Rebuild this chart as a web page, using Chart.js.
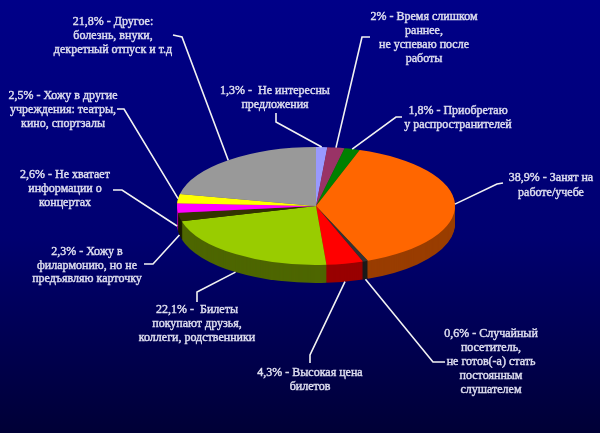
<!DOCTYPE html>
<html>
<head>
<meta charset="utf-8">
<title>Причины</title>
<style>
  html, body { margin: 0; padding: 0; background: #000050; }
  canvas { display: block; }
</style>
<script src="https://cdn.jsdelivr.net/npm/chart.js@4/dist/chart.umd.min.js"></script>
</head>
<body>
<canvas id="chart" width="600" height="433"></canvas>
<script>
// Slice captions, clockwise from the top of the pie
const captions = [
  ['1,3% -  Не интересны', 'предложения'],
  ['2% - Время слишком', 'раннее,', 'не успеваю после', 'работы'],
  ['1,8% - Приобретаю', 'у распространителей'],
  ['38,9% - Занят на', 'работе/учебе'],
  ['0,6% - Случайный', 'посетитель,', 'не готов(-а) стать', 'постоянным', 'слушателем'],
  ['4,3% - Высокая цена', 'билетов'],
  ['22,1% -  Билеты', 'покупают друзья,', 'коллеги, родственники'],
  ['2,3% - Хожу в', 'филармонию, но не', 'предъявляю карточку'],
  ['2,6% - Не хватает', 'информации о', 'концертах'],
  ['2,5% - Хожу в другие', 'учреждения: театры,', 'кино, спортзалы'],
  ['21,8% - Другое:', 'болезнь, внуки,', 'декретный отпуск и т.д']
];

// Shares, percent
const shares = [1.3, 2, 1.8, 38.9, 0.6, 4.3, 22.1, 2.3, 2.6, 2.5, 21.8];

// Top face and side wall colours
const faceColors = ['#9999ff', '#993366', '#008000', '#ff6600', '#333333', '#ff0000',
                    '#99cc00', '#333300', '#ff00ff', '#ffff00', '#999999'];
const sideColors = ['#5c5c99', '#5c1f3d', '#004d00', '#993d00', '#1a1a1a', '#990000',
                    '#4d6600', '#1a1a00', '#990099', '#999900', '#5c5c5c'];

// Caption placement: text centre, first line, line step, and leader bend points
const captionLayout = [
  { x: 275, y: 91,  step: 13.5, bend: [276, 122], tail: [276, 113] },
  { x: 424, y: 17,  step: 14,   bend: [362, 37],  tail: [370, 37] },
  { x: 458, y: 111, step: 14,   bend: [396, 117], tail: [402, 117] },
  { x: 551, y: 178, step: 14.5, bend: [497, 184], tail: [503, 183] },
  { x: 491, y: 334, step: 14,   bend: [433, 362], tail: [445, 362] },
  { x: 310, y: 373, step: 14,   bend: [310, 355], tail: [310, 363] },
  { x: 197, y: 310, step: 14,   bend: [197, 292], tail: [197, 302] },
  { x: 87,  y: 252, step: 13.5, bend: [153, 264], tail: [144, 264] },
  { x: 65,  y: 175, step: 14,   bend: [122, 190], tail: [113, 190] },
  { x: 63,  y: 96,  step: 14,   bend: [124, 109], tail: [117, 109] },
  { x: 113, y: 22,  step: 14,   bend: [182, 37],  tail: [173, 35] }
];

const SQUASH = 0.4245;   // vertical squash of the pie disc
const DEPTH = 18;        // thickness of the disc, px

const backdrop = {
  id: 'backdrop',
  beforeDraw(chart) {
    const { ctx, width, height } = chart;
    const g = ctx.createLinearGradient(0, 0, 0, height);
    g.addColorStop(0, '#000088');
    g.addColorStop(0.55, '#000070');
    g.addColorStop(1, '#000036');
    ctx.save();
    ctx.fillStyle = g;
    ctx.fillRect(0, 0, width, height);
    ctx.restore();
  }
};

function tiltTo(ctx, cy, dy) {
  ctx.translate(0, dy + cy * (1 - SQUASH));
  ctx.scale(1, SQUASH);
}

const disc = {
  id: 'disc',
  beforeDatasetsDraw(chart) {
    const ctx = chart.ctx;
    const arcs = chart.getDatasetMeta(0).data;
    const cy = arcs[0].y;
    // side wall: the disc stacked downward in darker tones
    for (let d = DEPTH; d >= 1; d--) {
      ctx.save();
      tiltTo(ctx, cy, d);
      arcs.forEach((arc, i) => {
        const p = arc.getProps(['x', 'y', 'startAngle', 'endAngle', 'outerRadius'], true);
        ctx.beginPath();
        ctx.moveTo(p.x, p.y);
        ctx.arc(p.x, p.y, p.outerRadius, p.startAngle, p.endAngle);
        ctx.closePath();
        ctx.fillStyle = sideColors[i];
        ctx.fill();
      });
      ctx.restore();
    }
    // top face is drawn by Chart.js under the same squash
    ctx.save();
    tiltTo(ctx, cy, 0);
  },
  afterDatasetsDraw(chart) {
    const ctx = chart.ctx;
    ctx.restore();
    const arcs = chart.getDatasetMeta(0).data;
    ctx.save();
    ctx.lineJoin = 'miter';
    ctx.font = '12px "Liberation Serif", "Times New Roman", serif';
    ctx.textAlign = 'center';
    ctx.textBaseline = 'middle';
    arcs.forEach((arc, i) => {
      const p = arc.getProps(['x', 'y', 'startAngle', 'endAngle', 'outerRadius'], true);
      const mid = (p.startAngle + p.endAngle) / 2;
      const s = Math.sin(mid);
      const ax = p.x + p.outerRadius * Math.cos(mid);
      const ay = p.y + p.outerRadius * SQUASH * s + (s > 0 ? DEPTH : 0);
      const L = captionLayout[i];
      ctx.strokeStyle = '#f2f2f2';
      ctx.lineWidth = 1.6;
      ctx.beginPath();
      ctx.moveTo(ax, ay);
      ctx.lineTo(L.bend[0], L.bend[1]);
      ctx.lineTo(L.tail[0], L.tail[1]);
      ctx.stroke();
      ctx.fillStyle = '#dcdcee';
      ctx.strokeStyle = '#dcdcee';
      ctx.lineWidth = 0.45;
      captions[i].forEach((line, k) => {
        ctx.fillText(line, L.x, L.y + k * L.step);
        ctx.strokeText(line, L.x, L.y + k * L.step);
      });
    });
    ctx.restore();
  }
};

new Chart(document.getElementById('chart'), {
  type: 'pie',
  data: {
    labels: captions.map(c => c.join(' ')),
    datasets: [{
      data: shares,
      backgroundColor: faceColors,
      borderWidth: 0,
      hoverBorderWidth: 0,
      offset: 0,
      hoverOffset: 0
    }]
  },
  options: {
    responsive: false,
    animation: false,
    events: [],
    layout: { padding: { left: 177, right: 145, top: 67, bottom: 88 } },
    plugins: {
      legend: { display: false },
      tooltip: { enabled: false }
    }
  },
  plugins: [backdrop, disc]
});
</script>
</body>
</html>
